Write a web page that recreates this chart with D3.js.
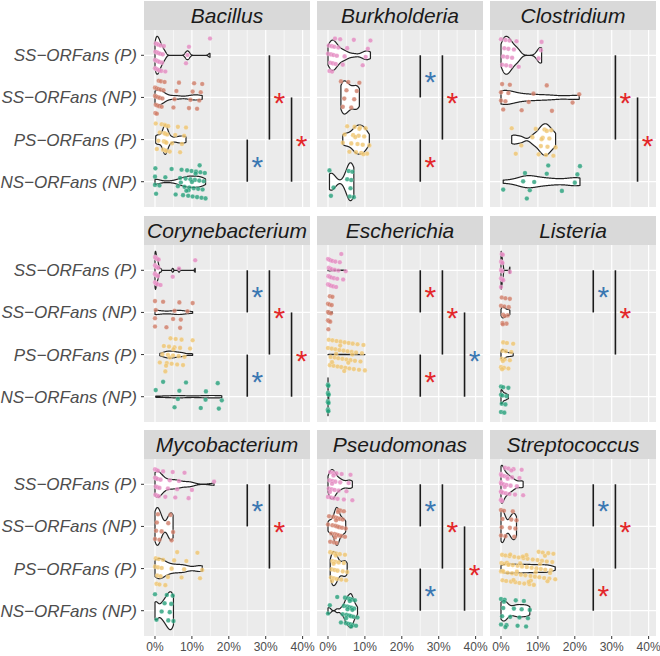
<!DOCTYPE html>
<html><head><meta charset="utf-8">
<script src="https://cdn.jsdelivr.net/npm/d3@7"></script>
<style>body{margin:0;background:#fff}svg{display:block}</style>
</head><body><svg id="chart" width="660" height="656"></svg>
<script>
// ---------- data ----------
const categories = ["SS−ORFans (P)", "SS−ORFans (NP)", "PS−ORFans (P)", "NS−ORFans (NP)"];
const genera = ["Bacillus", "Burkholderia", "Clostridium", "Corynebacterium", "Escherichia", "Listeria", "Mycobacterium", "Pseudomonas", "Streptococcus"];
const xTicks = [0, 10, 20, 30, 40];
const xMinor = [5, 15, 25, 35];
const pointColors = ["#e389c0", "#cf7c66", "#efc46e", "#26a07a"];
const starColors = { r: "#e3272a", b: "#3b78b2" };
const barLevels = [25, 31, 37];
const starLevels = [27.7, 33.7, 39.7];

// values in percent, one list per category (SS P, SS NP, PS P, NS NP)
const bacillus = [
  [0,0,0.1,0.2,0.3,0.4,0.5,0.6,0.7,0.8,0.9,1.0,1.1,1.2,1.4,1.5,1.7,1.9,2.1,2.4,2.8,8.4,8.8,9.2,14.9],
  [0,0,0.1,0.2,0.3,0.4,0.5,0.6,0.8,0.9,1.0,1.1,1.3,1.5,1.6,1.8,2.0,2.3,2.6,5.0,5.3,5.8,6.5,9.2,9.6,10.2,10.6,11.4,12.0,12.4,12.8],
  [0.2,0.5,0.9,1.3,1.8,2.2,2.4,2.5,2.6,2.7,2.8,2.8,2.9,3.0,3.1,3.3,3.6,4.0,4.6,5.5,6.2,6.8,7.3,7.9,8.4],
  [0,0,0.1,0.3,1.2,2.8,4.5,5.6,6.2,6.8,7.2,7.6,8.0,8.3,8.7,9.0,9.3,9.6,9.9,10.2,10.5,10.8,11.1,11.4,11.7,12.0,12.3,12.6,12.9,13.2,13.5,13.7,9.1,10.0,11.0,12.1,8.5,7.0]
];
const burkholderia = [
  [0,0.2,0.4,0.6,0.8,1.0,1.1,1.3,1.5,1.7,1.9,2.1,2.4,2.8,3.3,4.0,4.5,5.2,7.0,9.4,10.2,10.8,11.5],
  [3.5,4.0,4.4,5.0,5.5,6.3,7.1,7.8,8.5],
  [4.0,4.5,5.2,5.8,6.3,6.8,7.2,7.6,8.0,8.3,8.7,9.0,9.4,9.8,10.2,10.6,11.2,7.4,8.5,9.6],
  [0.4,0.8,1.5,5.2,5.6,5.9,6.1,6.3,6.6,7.0]
];
const clostridium = [
  [0,0.3,0.6,0.9,1.2,1.4,1.7,2.0,2.3,2.6,3.0,3.5,4.2,4.8,10.2,10.8,11.0],
  [0,0,0.3,0.6,1.2,2.0,2.4,5.6,7.5,8.8,12.4,13.8,19.4,21.2],
  [2.9,4.0,5.5,8.5,9.4,10.2,10.8,11.3,11.8,12.2,12.6,13.1,13.6,14.2,14.8,11.0,12.4],
  [0.6,6.0,6.5,7.0,7.8,9.0,12.4,12.8,16.5,20.0,20.7,21.4]
];
const corynebacterium = [
  [0,0,0,0,0,0.1,0.1,0.2,0.2,0.3,0.3,0.4,0.5,0.5,0.6,0.7,0.8,0.9,1.0,1.5,4.8,6.5,10.9],
  [0,0,0,0.2,2.2,3.1,4.9,5.3,6.6,6.8,7.0,8.8,10.2],
  [1.3,2.0,2.4,2.8,3.2,3.5,3.8,4.2,4.5,4.9,5.3,5.6,6.0,6.4,6.8,7.2,7.6,8.0,9.5,10.2,3.0,4.0,5.0],
  [0.2,2.2,5.3,6.2,6.6,8.4,12.4,13.7,13.8,17.0,17.3,18.1]
];
const escherichia = [
  [0,0,0.1,0.2,0.3,0.4,0.5,0.6,0.7,0.8,0.9,1.0,1.2,1.4,1.6,1.8,2.0,2.2,2.5,2.8,3.2,3.6,4.1,4.8],
  [0,0,0,0.1,0.2,0.3,0.4,0.5,0.6,0.8,1.0,1.2],
  [0,0.2,0.5,0.7,1.0,1.2,1.5,1.8,2.0,2.3,2.6,2.8,3.1,3.4,3.6,3.9,4.2,4.5,4.7,5.0,5.3,5.6,5.8,6.1,6.4,6.7,7.0,7.3,7.6,8.0,8.4,8.8,9.2,9.6,10.0,1.1,2.2,3.3,4.4,5.5,6.6],
  [0,0,0,0,0,0,0,0,0,0,0.05,0.1,0.1,0.15,0.2]
];
const listeria = [
  [0,0,0,0,0.1,0.1,0.2,0.2,0.3,0.3,0.4,0.5,0.6,2.4],
  [0,0.2,0.4,0.6,0.9,1.2,1.5,1.8,2.1,2.4,0.5,1.0],
  [0,0.2,0.4,0.6,0.8,1.0,1.3,1.6,2.0,2.4,2.8,3.3,0.3,0.5],
  [0,0,0,0.2,0.4,0.6,0.9,1.2,1.5,2.0]
];
const mycobacterium = [
  [0,0,0.1,0.2,0.3,0.4,0.5,0.6,0.7,0.8,1.0,1.2,1.5,2.2,2.8,3.5,4.0,4.8,5.5,6.0,6.5,8.0,9.1,10.0,16.0],
  [0,0.3,0.5,0.8,1.2,1.8,3.6,4.2,4.5,4.9],
  [0,0.2,0.4,0.6,0.8,1.0,1.2,1.5,1.8,2.2,2.8,3.5,4.5,5.2,6.0,7.2,7.9,8.5,11.5,12.2,12.8],
  [0,0.4,1.8,2.6,3.2,3.6,4.0,4.4,4.8,5.0]
];
const pseudomonas = [
  [0,0.2,0.4,0.6,0.8,1.0,1.2,1.4,1.6,1.8,2.0,2.3,2.6,2.9,3.3,3.7,4.3,5.0,5.6,6.1,6.6,0.5,1.1,1.5],
  [0,0.3,0.6,0.9,1.2,1.4,1.6,1.8,2.0,2.1,2.3,2.4,2.5,2.6,2.8,2.9,3.0,3.2,3.4,3.6,3.8,4.0,4.3,4.6,4.8,2.2,2.7,1.9],
  [0.6,0.8,1.0,1.2,1.4,1.6,1.8,2.0,2.2,2.4,2.6,2.9,3.2,3.6,4.0,4.3,4.6,4.9,5.2,1.5,2.1,1.1],
  [0,0.5,2.5,3.5,4.0,4.3,4.6,4.8,5.0,5.2,5.4,5.5,5.7,5.8,6.0,6.1,6.2,6.4,6.5,6.7,6.9,7.1,7.3,7.6,8.0,5.3,5.9,6.3,4.9,6.6]
];
const streptococcus = [
  [0,0,0,0,0,0,0,0,0.1,0.2,0.3,0.5,0.7,0.9,1.1,1.3,1.5,1.7,2.0,2.3,2.6,3.0,3.4,3.8,4.3,5.0,5.6,6.0,1.0,1.8,2.8],
  [0,0,0.2,0.4,0.8,1.2,2.4,2.8,3.2,3.6,3.9,4.2],
  [0,0.1,0.3,0.4,0.7,0.9,1.2,1.4,1.8,2.1,2.3,2.7,3.0,3.2,3.6,3.9,4.1,4.5,4.8,5.0,5.4,5.7,6.1,6.3,6.6,7.0,7.2,7.7,8.0,8.3,8.6,8.9,9.2,9.6,9.9,10.2,10.4,10.8,11.1,11.3,11.7,12.0,12.4,12.8,13.1,13.5,13.9,14.2,14.7,0.5,1.6,2.5,3.4,4.3,5.2,6.9,8.1,9.4,10.6,11.9,12.6,13.3,2.0,5.9,7.5],
  [0,0,0.3,0.6,1.0,1.5,2.5,3.5,4.0,4.5,5.0,5.6,6.2,6.8,7.3,7.8,0.8,1.2]
];

// significance brackets: [from category, to category, level, star colour]
const sigBacillus = [[0,2,1,"r"],[1,3,2,"r"],[2,3,0,"b"]];
const sigBurkholderia = [[0,1,0,"b"],[0,2,1,"r"],[2,3,0,"r"]];
const sigClostridium = [[0,2,1,"r"],[1,3,2,"r"]];
const sigCorynebacterium = [[0,1,0,"b"],[0,2,1,"r"],[1,3,2,"r"],[2,3,0,"b"]];
const sigEscherichia = [[0,1,0,"r"],[0,2,1,"r"],[1,3,2,"b"],[2,3,0,"r"]];
const sigListeria = [[0,1,0,"b"],[0,2,1,"r"]];
const sigMycobacterium = [[0,1,0,"b"],[0,2,1,"r"]];
const sigPseudomonas = [[0,1,0,"b"],[0,2,1,"r"],[1,3,2,"r"],[2,3,0,"b"]];
const sigStreptococcus = [[0,1,0,"b"],[0,2,1,"r"],[2,3,0,"r"]];

const valuesByGenus = [bacillus, burkholderia, clostridium, corynebacterium, escherichia, listeria, mycobacterium, pseudomonas, streptococcus];
const sigByGenus = [sigBacillus, sigBurkholderia, sigClostridium, sigCorynebacterium, sigEscherichia, sigListeria, sigMycobacterium, sigPseudomonas, sigStreptococcus];

// ---------- layout ----------
const colX = [144, 317, 490];
const rowY = [30, 245, 459];
const PW = 166, PH = 177, SH = 29;
const FONT = "'Liberation Sans', Arial, Helvetica, sans-serif";
const BW_ADJUST = 0.7;

const svg = d3.select("#chart");
const defs = svg.append("defs");

function bwNrd0(arr) {
  const s = arr.slice().sort(d3.ascending);
  const sd = d3.deviation(s) || 0;
  const iqr = d3.quantile(s, 0.75) - d3.quantile(s, 0.25);
  let lo = Math.min(sd, iqr / 1.34);
  if (!lo) lo = sd || Math.abs(s[0]) || 1;
  return 0.9 * lo * Math.pow(s.length, -0.2);
}
function kde(arr) {
  const bw = bwNrd0(arr) * BW_ADJUST;
  const lo = d3.min(arr), hi = d3.max(arr);
  const n = 256, out = [];
  for (let i = 0; i < n; i++) {
    const t = hi === lo ? lo : lo + (hi - lo) * i / (n - 1);
    let s = 0;
    for (const v of arr) { const z = (t - v) / bw; s += Math.exp(-0.5 * z * z); }
    out.push([t, s / (arr.length * bw * Math.sqrt(2 * Math.PI))]);
  }
  return out;
}
function jitter(i, g) {
  const f = ((i + 1) * 0.7548776662 + g * 0.5698402910 + 0.13) % 1;
  return (f - 0.5) * 0.8;
}

genera.forEach((genus, k) => {
  const px = colX[k % 3], py = rowY[Math.floor(k / 3)];
  const x = d3.scaleLinear().domain([-2.98, 42]).range([px, px + PW]);
  const y = d3.scalePoint().domain(categories).range([py, py + PH]).padding(0.6);
  const step = y.step();
  const g = svg.append("g");

  const clipId = "clip" + k;
  defs.append("clipPath").attr("id", clipId).append("rect")
    .attr("x", px).attr("y", py).attr("width", PW).attr("height", PH);

  // strip
  g.append("rect").attr("x", px).attr("y", py - SH).attr("width", PW).attr("height", SH).attr("fill", "#d9d9d9");
  g.append("text").attr("x", px + PW / 2).attr("y", py - SH + 22)
    .attr("text-anchor", "middle").attr("font-family", FONT).attr("font-style", "italic")
    .attr("font-size", 21).attr("fill", "#1a1a1a").text(genus);

  // panel bg + grid
  g.append("rect").attr("x", px).attr("y", py).attr("width", PW).attr("height", PH).attr("fill", "#ebebeb");
  g.selectAll(".minor").data(xMinor).join("line")
    .attr("x1", d => x(d)).attr("x2", d => x(d)).attr("y1", py).attr("y2", py + PH)
    .attr("stroke", "#fff").attr("stroke-width", 0.6);
  g.selectAll(".major").data(xTicks).join("line")
    .attr("x1", d => x(d)).attr("x2", d => x(d)).attr("y1", py).attr("y2", py + PH)
    .attr("stroke", "#fff").attr("stroke-width", 1.2);
  g.selectAll(".hmajor").data(categories).join("line")
    .attr("x1", px).attr("x2", px + PW).attr("y1", d => y(d)).attr("y2", d => y(d))
    .attr("stroke", "#fff").attr("stroke-width", 1.2);

  const data = valuesByGenus[k];
  const dens = data.map(kde);
  const maxD = d3.max(dens, d => d3.max(d, p => p[1]));
  const inner = g.append("g").attr("clip-path", `url(#${clipId})`);

  // violins
  dens.forEach((dd, ci) => {
    const yc = y(categories[ci]);
    const hw = p => 0.45 * step * p[1] / maxD;
    const pts = dd.map(p => [x(p[0]), yc - hw(p)]).concat(dd.slice().reverse().map(p => [x(p[0]), yc + hw(p)]));
    inner.append("path").attr("d", d3.line()(pts) + "Z")
      .attr("fill", "#fff").attr("stroke", "#222").attr("stroke-width", 1.2).attr("stroke-linejoin", "round");
  });

  // jittered points
  data.forEach((vals, ci) => {
    const yc = y(categories[ci]);
    inner.selectAll(null).data(vals).join("circle")
      .attr("cx", d => x(d)).attr("cy", (d, i) => yc + jitter(i, ci + k) * step)
      .attr("r", 2.3).attr("fill", pointColors[ci]).attr("fill-opacity", 0.8)
      .attr("stroke", "#fff").attr("stroke-opacity", 0.35).attr("stroke-width", 0.6);
  });

  // significance brackets
  sigByGenus[k].forEach(([a, b, lvl, c]) => {
    const y1 = y(categories[a]), y2 = y(categories[b]);
    inner.append("line").attr("x1", x(barLevels[lvl])).attr("x2", x(barLevels[lvl]))
      .attr("y1", y1).attr("y2", y2).attr("stroke", "#1a1a1a").attr("stroke-width", 1.6);
    inner.append("text").attr("x", x(starLevels[lvl])).attr("y", (y1 + y2) / 2 + 16)
      .attr("text-anchor", "middle").attr("font-family", FONT).attr("font-size", 30)
      .attr("fill", starColors[c]).text("*");
  });

  // y axis (left column)
  if (k % 3 === 0) {
    g.selectAll(".ylab").data(categories).join("text")
      .attr("x", 137).attr("y", d => y(d) + 6).attr("text-anchor", "end")
      .attr("font-family", FONT).attr("font-style", "italic").attr("font-size", 17)
      .attr("fill", "#4d4d4d").text(d => d);
    g.selectAll(".ytick").data(categories).join("line")
      .attr("x1", px - 3).attr("x2", px).attr("y1", d => y(d)).attr("y2", d => y(d))
      .attr("stroke", "#333").attr("stroke-width", 1);
  }
  // x axis (bottom row)
  if (k >= 6) {
    g.selectAll(".xtick").data(xTicks).join("line")
      .attr("x1", d => x(d)).attr("x2", d => x(d)).attr("y1", py + PH).attr("y2", py + PH + 3)
      .attr("stroke", "#333").attr("stroke-width", 1);
    g.selectAll(".xlab").data(xTicks).join("text")
      .attr("x", d => x(d)).attr("y", py + PH + 15).attr("text-anchor", "middle")
      .attr("font-family", FONT).attr("font-size", 12).attr("fill", "#4d4d4d")
      .text(d => d + "%");
  }
});
</script>
</body></html>
